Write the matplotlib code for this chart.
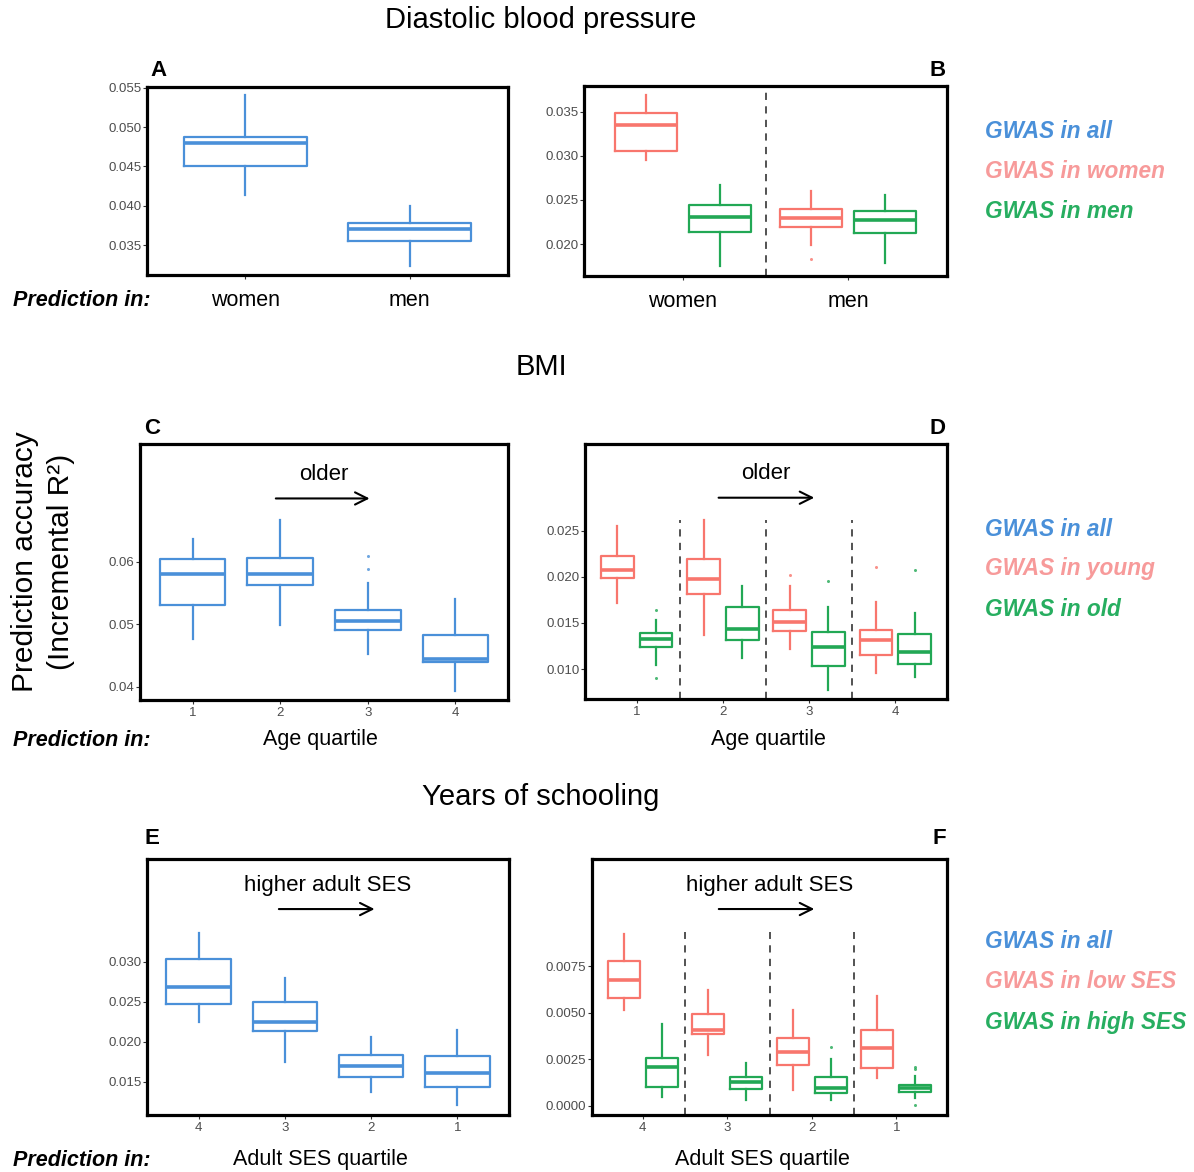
import matplotlib
matplotlib.use("Agg")
import matplotlib.pyplot as plt

plt.rcParams['font.family'] = ['Liberation Sans', 'DejaVu Sans']

# ---------------- data (lo whisker, Q1, median, Q3, hi whisker) ----------------
A_groups = ["women", "men"]
A_all = [(0.0414, 0.0450, 0.0480, 0.0488, 0.0541),
         (0.0323, 0.0355, 0.0370, 0.0378, 0.0400)]

B_groups = ["women", "men"]
B_gwas_women = [(0.0295, 0.0306, 0.0335, 0.0349, 0.0369),
                (0.0199, 0.0219, 0.0230, 0.0240, 0.0260)]
B_gwas_women_out = [[], [0.0183]]
B_gwas_men = [(0.0175, 0.0214, 0.0231, 0.0244, 0.0267),
              (0.0179, 0.0213, 0.0227, 0.0238, 0.0256)]
B_gwas_men_out = [[], []]

C_groups = ["1", "2", "3", "4"]
C_all = [(0.0476, 0.0530, 0.0580, 0.0604, 0.0636),
         (0.0499, 0.0562, 0.0581, 0.0606, 0.0667),
         (0.0453, 0.0491, 0.0506, 0.0523, 0.0566),
         (0.0394, 0.0439, 0.0445, 0.0483, 0.0540)]
C_all_out = [[], [], [0.0609, 0.0589], []]

D_groups = ["1", "2", "3", "4"]
D_young = [(0.0172, 0.0199, 0.0207, 0.0223, 0.0255),
           (0.0137, 0.0182, 0.0198, 0.0219, 0.0262),
           (0.0122, 0.0141, 0.0151, 0.0164, 0.0190),
           (0.0096, 0.0115, 0.0132, 0.0142, 0.0173)]
D_young_out = [[], [], [0.0202], [0.0211]]
D_old = [(0.0104, 0.0124, 0.0133, 0.0139, 0.0153),
         (0.0112, 0.0132, 0.0143, 0.0167, 0.0190),
         (0.0077, 0.0103, 0.0124, 0.0140, 0.0167),
         (0.0091, 0.0106, 0.0118, 0.0138, 0.0161)]
D_old_out = [[0.0164, 0.0090], [], [0.0196], [0.0208]]

E_groups = ["4", "3", "2", "1"]
E_all = [(0.0224, 0.0247, 0.0268, 0.0303, 0.0335),
         (0.0174, 0.0213, 0.0225, 0.0250, 0.0279),
         (0.0137, 0.0156, 0.0170, 0.0183, 0.0206),
         (0.0121, 0.0143, 0.0161, 0.0182, 0.0215)]
E_all_out = [[], [], [], []]

F_groups = ["4", "3", "2", "1"]
F_low = [(0.00517, 0.00580, 0.00675, 0.00777, 0.00926),
         (0.00275, 0.00386, 0.00409, 0.00497, 0.00625),
         (0.00086, 0.00221, 0.00289, 0.00368, 0.00517),
         (0.00149, 0.00206, 0.00311, 0.00409, 0.00594)]
F_low_out = [[], [], [], []]
F_high = [(0.00050, 0.00104, 0.00208, 0.00260, 0.00441),
          (0.00032, 0.00093, 0.00128, 0.00158, 0.00230),
          (0.00032, 0.00072, 0.00099, 0.00158, 0.00251),
          (0.00042, 0.00074, 0.00095, 0.00113, 0.00163)]
F_high_out = [[], [], [0.00316], [0.00212, 0.00198, 0.00005]]

A_ticks = [0.035, 0.040, 0.045, 0.050, 0.055]
B_ticks = [0.020, 0.025, 0.030, 0.035]
C_ticks = [0.04, 0.05, 0.06]
D_ticks = [0.010, 0.015, 0.020, 0.025]
E_ticks = [0.015, 0.020, 0.025, 0.030]
F_ticks = [0.0000, 0.0025, 0.0050, 0.0075]

# ---------------- style ----------------
BLUE = '#4A90D9'
RED = '#F8766D'
GREEN = '#22A855'
LEG_BLUE = '#4A90D9'
LEG_PINK = '#F79A9A'
LEG_GREEN = '#27AE60'

W, H = 1194, 1172
fig = plt.figure(figsize=(W / 100, H / 100), dpi=100)


def fx(x):
    return x / W


def fy(y):
    return 1 - y / H


def make_ax(l, t, r, b):
    return fig.add_axes([fx(l), fy(b), (r - l) / W, (b - t) / H])


def draw_boxes(ax, positions, stats, fliers, color, width):
    st = []
    for (lo, q1, med, q3, hi), fl in zip(stats, fliers):
        st.append(dict(whislo=lo, q1=q1, med=med, q3=q3, whishi=hi, fliers=fl))
    ax.bxp(st, positions=positions, widths=width, showcaps=False,
           patch_artist=False, manage_ticks=False,
           boxprops=dict(color=color, lw=1.6),
           whiskerprops=dict(color=color, lw=1.6),
           medianprops=dict(color=color, lw=2.6),
           flierprops=dict(marker='o', markersize=2.2, markerfacecolor=color,
                           markeredgecolor='none', alpha=0.8))


def style_ax(ax, xlim, ylim, yticks, yfmt, xticks, xlabels, xfs, xpad):
    ax.set_xlim(*xlim)
    ax.set_ylim(*ylim)
    ax.set_yticks(yticks)
    ax.set_yticklabels([yfmt.format(v) for v in yticks])
    ax.set_xticks(xticks)
    ax.set_xticklabels(xlabels)
    for s in ax.spines.values():
        s.set_linewidth(2.3)
        s.set_color('black')
    ax.tick_params(axis='y', length=3, width=0.8, color='#333333',
                   labelsize=9.5, labelcolor='#4D4D4D', pad=1)
    ax.tick_params(axis='x', length=3, width=0.8, color='#333333',
                   labelsize=xfs, labelcolor='#4D4D4D' if xfs < 12 else 'black',
                   pad=xpad)


def vdash(ax, xs, ytop):
    y0 = ax.get_ylim()[0]
    for x in xs:
        ax.plot([x, x], [y0, ytop], ls=(0, (4, 3.5)), color='#444444', lw=1.3)


def arrow(ax, x0, x1, y):
    ax.annotate('', xy=(x1, y), xytext=(x0, y),
                arrowprops=dict(arrowstyle='->', lw=1.5, color='black',
                                mutation_scale=22, shrinkA=0, shrinkB=0))


OFF = 0.225
BW = 0.38

# ---------------- Panel A ----------------
axA = make_ax(147, 87, 508, 275)
draw_boxes(axA, [1, 2], A_all, [[], []], BLUE, 0.75)
style_ax(axA, (0.4, 2.6), (0.0312, 0.0551), A_ticks, "{:.3f}", [1, 2],
         A_groups, 15.5, 8)

# ---------------- Panel B ----------------
axB = make_ax(584, 86, 947, 276)
draw_boxes(axB, [1 - OFF, 2 - OFF], B_gwas_women, B_gwas_women_out, RED, BW)
draw_boxes(axB, [1 + OFF, 2 + OFF], B_gwas_men, B_gwas_men_out, GREEN, BW)
style_ax(axB, (0.4, 2.6), (0.0164, 0.0379), B_ticks, "{:.3f}", [1, 2],
         B_groups, 15.5, 8)
vdash(axB, [1.5], 0.0374)

# ---------------- Panel C ----------------
axC = make_ax(140, 444, 508, 700)
draw_boxes(axC, [1, 2, 3, 4], C_all, C_all_out, BLUE, 0.75)
style_ax(axC, (0.4, 4.6), (0.0379, 0.0788), C_ticks, "{:.2f}", [1, 2, 3, 4],
         C_groups, 9.5, 2)
arrow(axC, 1.95, 3.02, 0.0701)
axC.text(2.5, 0.0740, "older", ha='center', va='center', fontsize=16)

# ---------------- Panel D ----------------
axD = make_ax(585, 444, 947, 699)
pos = [1, 2, 3, 4]
draw_boxes(axD, [p - OFF for p in pos], D_young, D_young_out, RED, BW)
draw_boxes(axD, [p + OFF for p in pos], D_old, D_old_out, GREEN, BW)
style_ax(axD, (0.4, 4.6), (0.00675, 0.03443), D_ticks, "{:.3f}", pos,
         D_groups, 9.5, 2)
vdash(axD, [1.5, 2.5, 3.5], 0.0262)
arrow(axD, 1.95, 3.06, 0.0286)
axD.text(2.5, 0.0312, "older", ha='center', va='center', fontsize=16)

# ---------------- Panel E ----------------
axE = make_ax(147, 859, 509, 1115)
draw_boxes(axE, [1, 2, 3, 4], E_all, E_all_out, BLUE, 0.75)
style_ax(axE, (0.4, 4.6), (0.01084, 0.0428), E_ticks, "{:.3f}", [1, 2, 3, 4],
         E_groups, 9.5, 2)
arrow(axE, 1.93, 3.04, 0.03655)
axE.text(2.5, 0.0395, "higher adult SES", ha='center', va='center', fontsize=16)

# ---------------- Panel F ----------------
axF = make_ax(592, 859, 947, 1115)
draw_boxes(axF, [p - OFF for p in pos], F_low, F_low_out, RED, BW)
draw_boxes(axF, [p + OFF for p in pos], F_high, F_high_out, GREEN, BW)
style_ax(axF, (0.4, 4.6), (-0.000485, 0.01328), F_ticks, "{:.4f}", pos,
         F_groups, 9.5, 2)
vdash(axF, [1.5, 2.5, 3.5], 0.00938)
arrow(axF, 1.9, 3.03, 0.01059)
axF.text(2.5, 0.01185, "higher adult SES", ha='center', va='center', fontsize=16)

# ---------------- figure texts ----------------
fig.text(fx(541), fy(20), "Diastolic blood pressure", ha='center', va='center', fontsize=21)
fig.text(fx(541), fy(367), "BMI", ha='center', va='center', fontsize=21)
fig.text(fx(541), fy(797), "Years of schooling", ha='center', va='center', fontsize=21)

for letter, x, y, ha in [("A", 150, 70, 'left'), ("B", 946, 70, 'right'),
                         ("C", 144, 429, 'left'), ("D", 946, 429, 'right'),
                         ("E", 144, 838, 'left'), ("F", 946, 838, 'right')]:
    fig.text(fx(x), fy(y), letter, ha=ha, va='center', fontsize=16, fontweight='bold')

for y in [300, 741, 1160]:
    fig.text(fx(13), fy(y), "Prediction in:", ha='left', va='center', fontsize=15.5,
             fontweight='bold', style='italic')

fig.text(fx(320), fy(740), "Age quartile", ha='center', va='center', fontsize=15.5)
fig.text(fx(768), fy(740), "Age quartile", ha='center', va='center', fontsize=15.5)
fig.text(fx(320), fy(1160), "Adult SES quartile", ha='center', va='center', fontsize=15.5)
fig.text(fx(762), fy(1160), "Adult SES quartile", ha='center', va='center', fontsize=15.5)

fig.text(fx(25), fy(562), "Prediction accuracy", rotation=90, ha='center', va='center', fontsize=21.5)
fig.text(fx(61), fy(562), "(Incremental R²)", rotation=90, ha='center', va='center', fontsize=21.5)

legends = [
    (132, ["GWAS in all", "GWAS in women", "GWAS in men"]),
    (529, ["GWAS in all", "GWAS in young", "GWAS in old"]),
    (942, ["GWAS in all", "GWAS in low SES", "GWAS in high SES"]),
]
for y0, labels in legends:
    for i, (lab, col) in enumerate(zip(labels, [LEG_BLUE, LEG_PINK, LEG_GREEN])):
        fig.text(fx(985), fy(y0 + 40 * i), lab, ha='left', va='center', fontsize=16.3,
                 fontweight='bold', style='italic', color=col)

fig.savefig("out.png", dpi=100)
